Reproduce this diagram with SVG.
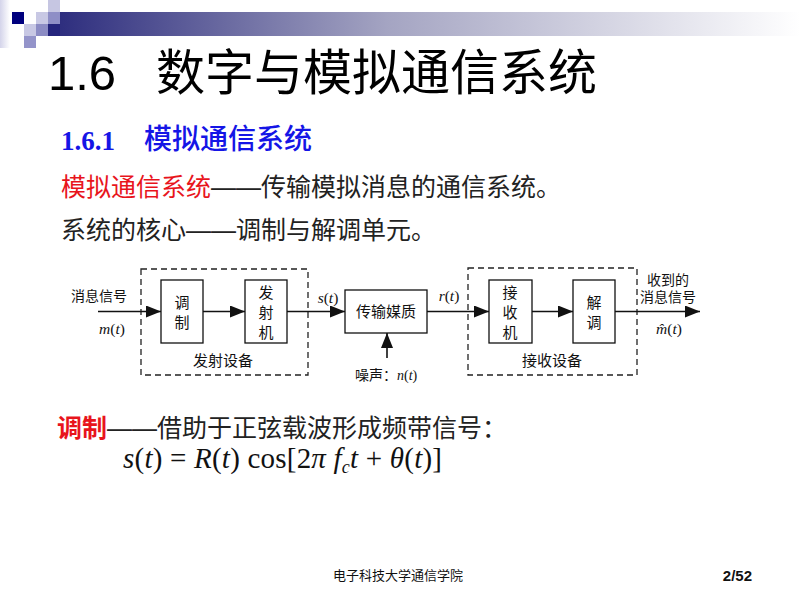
<svg xmlns="http://www.w3.org/2000/svg" width="800" height="600" viewBox="0 0 800 600">
<defs>
<linearGradient id="bar" x1="0" y1="0" x2="1" y2="0">
<stop offset="0" stop-color="#2a2a7c"/>
<stop offset="0.45" stop-color="#a4a4c2"/>
<stop offset="1" stop-color="#ffffff"/>
</linearGradient>
<linearGradient id="edge" x1="0" y1="0" x2="1" y2="0">
<stop offset="0" stop-color="#d4d4ea"/>
<stop offset="1" stop-color="#ffffff"/>
</linearGradient>
<marker id="arr" markerUnits="userSpaceOnUse" markerWidth="16" markerHeight="12" refX="15" refY="6" orient="auto">
<path d="M0,0 L15,6 L0,12 Z" fill="#111"/>
</marker>
<style>
.cjk{font-family:"Liberation Sans","Noto Sans CJK SC",sans-serif;}
.lbl{font-family:"Liberation Serif","Noto Sans CJK SC",serif;fill:#111;}
.it{font-family:"Liberation Serif","Noto Sans CJK SC",serif;font-style:italic;fill:#111;}
.box{fill:#fff;stroke:#111;stroke-width:1.3;}
.dash{fill:none;stroke:#222;stroke-width:1.3;stroke-dasharray:6 4;}
.wire{fill:none;stroke:#111;stroke-width:1.6;marker-end:url(#arr);}
</style>
</defs>
<rect width="800" height="600" fill="#fff"/>
<!-- top-left decoration -->
<g id="decor">
<rect x="0" y="0" width="10" height="48" fill="url(#edge)"/>
<rect x="48" y="12" width="752" height="24" fill="url(#bar)"/>
<rect x="12" y="12" width="12" height="12" fill="#00007e"/>
<rect x="48" y="0" width="12" height="12" fill="#c6c6e2"/>
<rect x="36" y="12" width="12" height="12" fill="#c8c8e4"/>
<rect x="48" y="12" width="12" height="12" fill="#8e8ec6"/>
<rect x="24" y="24" width="12" height="12" fill="#c8c8e4"/>
<rect x="36" y="24" width="12" height="12" fill="#8c8cc4"/>
<rect x="48" y="24" width="12" height="12" fill="#24247c"/>
<rect x="24" y="36" width="12" height="12" fill="#9494ca"/>
</g>
<!-- title -->
<text x="48" y="90" font-size="49" fill="#000" font-family="Liberation Sans, sans-serif">1.6</text>
<text x="156" y="90" font-size="49" fill="#000" class="cjk">数字与模拟通信系统</text>
<!-- section heading -->
<text x="61" y="150" font-size="27" font-weight="bold" fill="#1515e6" font-family="Liberation Serif, serif">1.6.1</text>
<text x="144" y="149" font-size="28" font-weight="500" fill="#1515e6" class="cjk">模拟通信系统</text>
<!-- text lines -->
<text x="61" y="196" font-size="25" class="cjk" fill="#222"><tspan fill="#e8141c">模拟通信系统</tspan>——传输模拟消息的通信系统。</text>
<text x="61" y="239" font-size="25" class="cjk" fill="#222">系统的核心——调制与解调单元。</text>
<!-- block diagram -->
<g id="tx-equip"><rect class="dash" x="141" y="269" width="167" height="106"/><text class="lbl" x="223" y="366" font-size="15" text-anchor="middle">发射设备</text></g>
<g id="rx-equip"><rect class="dash" x="468" y="268" width="169" height="107"/><text class="lbl" x="552" y="366" font-size="15" text-anchor="middle">接收设备</text></g>
<g id="mod"><rect class="box" x="161" y="280" width="42" height="63"/><text class="lbl" x="182" y="308" font-size="15" text-anchor="middle">调</text><text class="lbl" x="182" y="328" font-size="15" text-anchor="middle">制</text></g>
<g id="tx"><rect class="box" x="245" y="280" width="42" height="63"/><text class="lbl" x="266" y="298" font-size="15" text-anchor="middle">发</text><text class="lbl" x="266" y="318" font-size="15" text-anchor="middle">射</text><text class="lbl" x="266" y="338" font-size="15" text-anchor="middle">机</text></g>
<g id="channel"><rect class="box" x="345" y="290" width="82" height="43"/><text class="lbl" x="386" y="317" font-size="15" text-anchor="middle">传输媒质</text></g>
<g id="rx"><rect class="box" x="489" y="280" width="43" height="63"/><text class="lbl" x="510" y="298" font-size="15" text-anchor="middle">接</text><text class="lbl" x="510" y="318" font-size="15" text-anchor="middle">收</text><text class="lbl" x="510" y="338" font-size="15" text-anchor="middle">机</text></g>
<g id="demod"><rect class="box" x="573" y="280" width="42" height="63"/><text class="lbl" x="594" y="308" font-size="15" text-anchor="middle">解</text><text class="lbl" x="594" y="328" font-size="15" text-anchor="middle">调</text></g>
<g id="connectors">
<line class="wire" x1="98" y1="311.5" x2="161" y2="311.5"/>
<line class="wire" x1="203" y1="311.5" x2="245" y2="311.5"/>
<line class="wire" x1="287" y1="311.5" x2="345" y2="311.5"/>
<line class="wire" x1="387" y1="358" x2="387" y2="333"/>
<line class="wire" x1="427" y1="311.5" x2="489" y2="311.5"/>
<line class="wire" x1="532" y1="311.5" x2="573" y2="311.5"/>
<line class="wire" x1="615" y1="311.5" x2="700" y2="311.5"/>
</g>
<g id="labels">
<text class="lbl" x="99" y="301" font-size="14" text-anchor="middle">消息信号</text>
<text class="it" x="112" y="334" font-size="15.5" text-anchor="middle">m<tspan font-style="normal">(</tspan>t<tspan font-style="normal">)</tspan></text>
<text class="it" x="328" y="303" font-size="15.5" text-anchor="middle">s<tspan font-style="normal">(</tspan>t<tspan font-style="normal">)</tspan></text>
<text class="it" x="449" y="301" font-size="15.5" text-anchor="middle">r<tspan font-style="normal">(</tspan>t<tspan font-style="normal">)</tspan></text>
<text class="lbl" x="355" y="380" font-size="14">噪声：<tspan class="it">n</tspan>(<tspan class="it">t</tspan>)</text>
<text class="lbl" x="668" y="285" font-size="14" text-anchor="middle">收到的</text>
<text class="lbl" x="668" y="302" font-size="14" text-anchor="middle">消息信号</text>
<text class="it" x="669" y="334" font-size="15.5" text-anchor="middle">m̂<tspan font-style="normal">(</tspan>t<tspan font-style="normal">)</tspan></text>
</g>
<!-- modulation line -->
<text x="57" y="437" font-size="25" class="cjk" fill="#222"><tspan fill="#e8141c" font-weight="bold">调制</tspan>——借助于正弦载波形成频带信号：</text>
<text x="123" y="468" font-size="29" font-family="Liberation Serif, serif" fill="#111" textLength="319" lengthAdjust="spacing"><tspan font-style="italic">s</tspan>(<tspan font-style="italic">t</tspan>) = <tspan font-style="italic">R</tspan>(<tspan font-style="italic">t</tspan>) cos[2<tspan font-style="italic">π f</tspan><tspan font-style="italic" font-size="18" dy="5">c</tspan><tspan font-style="italic" dy="-5">t</tspan> + <tspan font-style="italic">θ</tspan>(<tspan font-style="italic">t</tspan>)]</text>
<!-- footer -->
<text x="333" y="580" font-size="13" class="cjk" fill="#111">电子科技大学通信学院</text>
<text x="752" y="581" font-size="15" font-weight="bold" text-anchor="end" fill="#111" font-family="Liberation Sans, sans-serif">2/52</text>
</svg>
